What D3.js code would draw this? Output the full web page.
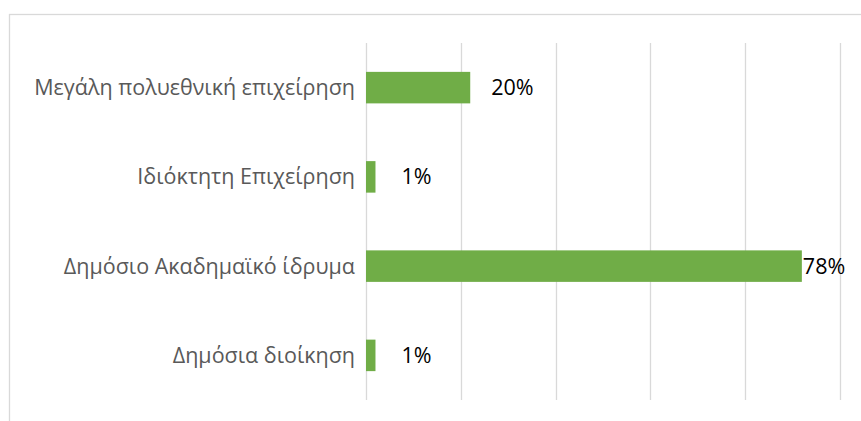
<!DOCTYPE html>
<html>
<head>
<meta charset="utf-8">
<script src="https://cdn.jsdelivr.net/npm/d3@7"></script>
<style>
  body { margin: 0; background: #fff; }
  svg { display: block; }
</style>
</head>
<body>
<div id="chart"></div>
<script>
// categories top to bottom
const categories = [
    "Μεγάλη πολυεθνική επιχείρηση",
    "Ιδιόκτητη Επιχείρηση",
    "Δημόσιο Ακαδημαϊκό ίδρυμα",
    "Δημόσια διοίκηση"
];
// bar lengths
const values = [11, 1, 46, 1];
// data labels shown next to the bars
const valueLabels = ["20%", "1%", "78%", "1%"];
// gridline positions
const gridTicks = [0, 10, 20, 30, 40, 50];

const width = 861;
const height = 421;

// label offsets from bar end (the 78% one sits right on the bar)
const labelNudge = [21, 26, 1, 26];

const svg = d3.select("#chart")
    .append("svg")
    .attr("width", width)
    .attr("height", height);

// chart area border (runs off the right and bottom edge)
svg.append("rect")
    .attr("x", 9.5)
    .attr("y", 14.5)
    .attr("width", 900)
    .attr("height", 450)
    .attr("fill", "none")
    .attr("stroke", "#d9d9d9")
    .attr("stroke-width", 1.3);

const x = d3.scaleLinear()
    .domain([0, 50])
    .range([366, 839.75]);

const y = d3.scaleBand()
    .domain(categories)
    .range([43, 400])
    .paddingInner(0.647)
    .paddingOuter(0.3235);

// vertical gridlines
svg.append("g")
    .selectAll("line")
    .data(gridTicks)
    .join("line")
    .attr("x1", d => Math.round(x(d)) + 0.5)
    .attr("x2", d => Math.round(x(d)) + 0.5)
    .attr("y1", 43)
    .attr("y2", 400)
    .attr("stroke", "#d9d9d9")
    .attr("stroke-width", 1.3);

// category labels
svg.append("g")
    .selectAll("text")
    .data(categories)
    .join("text")
    .attr("x", 355)
    .attr("y", d => y(d) + y.bandwidth() / 2)
    .attr("dy", "0.35em")
    .attr("text-anchor", "end")
    .attr("fill", "#595959")
    .style("font-family", "'Open Sans', 'Noto Sans', sans-serif")
    .style("font-size", "21.5px")
    .text(d => d);

// bars
svg.append("g")
    .selectAll("rect")
    .data(values)
    .join("rect")
    .attr("x", x(0))
    .attr("y", (d, i) => y(categories[i]))
    .attr("width", d => x(d) - x(0))
    .attr("height", y.bandwidth())
    .attr("fill", "#70ad47");

// data labels
svg.append("g")
    .selectAll("text")
    .data(values)
    .join("text")
    .attr("x", (d, i) => x(d) + labelNudge[i])
    .attr("y", (d, i) => y(categories[i]) + y.bandwidth() / 2)
    .attr("dy", "0.35em")
    .attr("fill", "#000")
    .style("font-family", "'Open Sans', 'Noto Sans', sans-serif")
    .style("font-size", "21.5px")
    .text((d, i) => valueLabels[i]);
</script>
</body>
</html>
